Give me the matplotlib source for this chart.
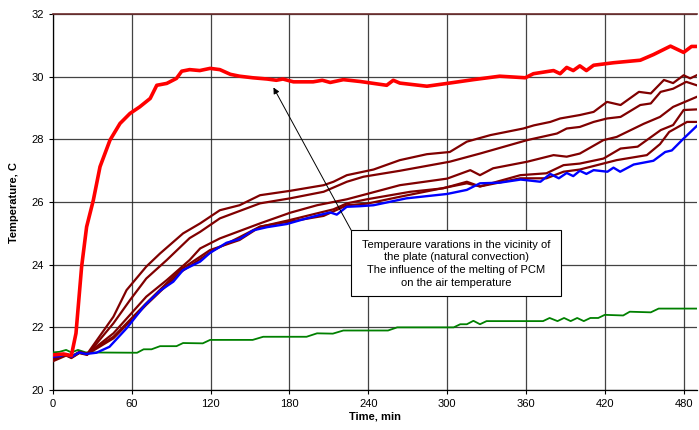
import numpy as np
import matplotlib
matplotlib.use('Agg')
import matplotlib.pyplot as plt
from matplotlib.patches import Rectangle

plt.rcParams['font.family'] = ['Liberation Sans', 'DejaVu Sans']

# air temperature next to the heated plate
red_t = [0, 8, 14, 17.5, 21.8, 25.6, 30.7, 35.8, 43.4, 51, 58.6, 66, 74, 79, 86.6, 94, 98, 104, 111.7,
         119.6, 127, 135, 142, 152, 163, 170, 175, 183, 198, 205, 211, 221, 234, 254, 259, 264, 284.6,
         300, 320, 340, 359.5, 365.7, 381, 386, 391, 396, 401, 406, 411.5, 426.7, 447, 457, 470, 480, 486, 492]
red_T = [21.12, 21.15, 21.1, 21.81, 23.94, 25.21, 26.06, 27.13, 27.98, 28.51, 28.83, 29.04, 29.31, 29.73,
         29.79, 29.95, 30.18, 30.23, 30.2, 30.27, 30.23, 30.08, 30.02, 29.97, 29.93, 29.89, 29.93, 29.84,
         29.84, 29.89, 29.82, 29.91, 29.85, 29.73, 29.89, 29.8, 29.7, 29.79, 29.91, 30.02, 29.97, 30.1,
         30.2, 30.1, 30.3, 30.2, 30.35, 30.2, 30.37, 30.45, 30.53, 30.71, 30.98, 30.78, 30.97, 30.97]

# ambient
green_t = [0, 5, 10, 14, 19, 25, 64, 69, 75, 81.5, 94, 99, 114, 119.6, 152, 160, 193, 201, 213, 221, 255,
           262, 305, 310, 315, 320, 325, 330, 373, 378, 384, 389, 394, 399, 404, 409, 415, 420, 434, 439,
           455, 461, 491]
green_T = [21.2, 21.22, 21.28, 21.2, 21.28, 21.2, 21.19, 21.3, 21.3, 21.4, 21.4, 21.5, 21.49, 21.6, 21.6,
           21.7, 21.7, 21.81, 21.8, 21.9, 21.9, 22.0, 22.0, 22.1, 22.1, 22.21, 22.1, 22.2, 22.2, 22.3, 22.2,
           22.3, 22.2, 22.3, 22.2, 22.3, 22.3, 22.4, 22.38, 22.5, 22.48, 22.6, 22.6]

blue_t = [0, 5, 10, 14, 20, 25, 33, 43, 56, 70, 81.5, 91.6, 99, 112, 119.6, 132, 142, 152.6, 163, 178, 193,
          203, 211, 216, 223.6, 234, 244, 269, 300, 315, 325, 340, 356, 371, 378.5, 385, 391, 396, 401,
          406, 411.5, 422, 426.6, 431.7, 442, 457, 466, 471, 480, 491.5]
blue_T = [21.06, 21.08, 21.15, 21.06, 21.2, 21.15, 21.19, 21.38, 21.97, 22.71, 23.17, 23.46, 23.83, 24.1,
          24.38, 24.7, 24.82, 25.1, 25.2, 25.3, 25.48, 25.59, 25.67, 25.6, 25.85, 25.87, 25.9, 26.12, 26.26,
          26.39, 26.6, 26.62, 26.72, 26.65, 26.9, 26.76, 26.93, 26.83, 27.0, 26.9, 27.02, 26.97, 27.1,
          26.97, 27.2, 27.32, 27.6, 27.65, 28.03, 28.49]

# other sensors in the plate vicinity
a_t = [0, 10, 14, 20, 26, 46, 56, 71, 81.5, 99, 112, 127, 142, 157.6, 180.5, 206, 213.5, 223.7, 244, 264,
       284.6, 302, 315, 333, 358, 366, 378.5, 386, 401, 411.5, 421.7, 432, 446, 455, 465, 472, 480, 485, 490]
a_T = [20.98, 21.12, 21.05, 21.2, 21.15, 22.34, 23.19, 23.94, 24.36, 25.0, 25.32, 25.74, 25.9, 26.22, 26.36,
       26.54, 26.65, 26.86, 27.04, 27.34, 27.53, 27.6, 27.93, 28.14, 28.35, 28.45, 28.56, 28.67, 28.78, 28.88,
       29.2, 29.1, 29.52, 29.47, 29.9, 29.8, 30.05, 29.95, 30.05]

b_t = [0, 10, 14, 20, 26, 46, 58.6, 71, 86.6, 104, 112, 127, 157.6, 180.5, 206, 223.7, 236.3, 264, 302, 325,
       361, 383.6, 391, 401, 411.5, 421.7, 432, 447, 455, 462.5, 472, 482, 490]
b_T = [20.92, 21.1, 21.02, 21.18, 21.12, 22.13, 22.87, 23.56, 24.15, 24.85, 25.05, 25.48, 25.96, 26.12, 26.33,
       26.65, 26.81, 27.0, 27.29, 27.55, 27.98, 28.19, 28.35, 28.4, 28.56, 28.67, 28.72, 29.1, 29.15, 29.52,
       29.62, 29.84, 29.73]

c_t = [0, 10, 14, 20, 26, 46, 71, 86.6, 104, 112, 127, 157.6, 180.5, 201, 223.7, 239, 264, 300, 317.6, 325,
       335, 361, 381, 391, 401, 419, 429, 449.6, 462, 472, 490]
c_T = [21.0, 21.14, 21.05, 21.2, 21.15, 21.81, 22.98, 23.51, 24.15, 24.52, 24.84, 25.32, 25.66, 25.9, 26.09,
       26.26, 26.54, 26.75, 27.02, 26.86, 27.08, 27.29, 27.5, 27.45, 27.55, 27.98, 28.08, 28.5, 28.72, 29.04,
       29.36]

d_t = [0, 10, 14, 20, 26, 46, 71, 96.7, 119.6, 142, 157.6, 180.5, 213.5, 223.7, 239, 272, 297, 315, 325,
       355.7, 375.6, 388.6, 401, 419, 432, 445, 462.6, 472, 480, 490]
d_T = [21.02, 21.15, 21.07, 21.22, 21.16, 21.7, 22.77, 23.83, 24.47, 24.79, 25.21, 25.43, 25.77, 25.96, 26.09,
       26.33, 26.44, 26.65, 26.5, 26.86, 26.92, 27.18, 27.23, 27.39, 27.71, 27.77, 28.3, 28.46, 28.94, 28.96]

e_t = [0, 10, 14, 20, 26, 46, 71, 96.7, 122, 142, 157.6, 180.5, 206, 223.7, 239, 264, 315, 325, 355.7,
       375.6, 388.6, 401, 429, 452, 462, 469, 482.6, 490]
e_T = [21.0, 21.13, 21.04, 21.19, 21.14, 21.65, 22.72, 23.75, 24.46, 24.88, 25.22, 25.38, 25.56, 25.9, 25.95,
       26.17, 26.6, 26.5, 26.76, 26.76, 26.97, 27.04, 27.34, 27.5, 27.85, 28.24, 28.56, 28.56]

note = ('Temperaure varations in the vicinity of\nthe plate (natural convection)\n'
        'The influence of the melting of PCM\non the air temperature')

fig = plt.figure(figsize=(6.99, 4.30), dpi=100)
ax = fig.add_axes([0.0758, 0.093, 0.921, 0.874])

ax.plot(green_t, green_T, color='#008000', lw=1.3, zorder=3)
for tt, TT in [(a_t, a_T), (b_t, b_T), (c_t, c_T), (d_t, d_T), (e_t, e_T)]:
    ax.plot(tt, TT, color='#800000', lw=1.6, zorder=3)
ax.plot(blue_t, blue_T, color='#0000ff', lw=1.7, zorder=4)
ax.plot(red_t, red_T, color='#ff0000', lw=2.6, zorder=5)

ax.set_xlim(0, 490)
ax.set_ylim(20, 32)
ax.set_xticks(np.arange(0, 481, 60))
ax.set_yticks(np.arange(20, 33, 2))
ax.grid(True, color='#222222', lw=0.9, alpha=0.85)
ax.set_axisbelow(True)
ax.tick_params(labelsize=8, length=3, width=0.8, colors='black')
for s in ['left', 'bottom']:
    ax.spines[s].set_linewidth(0.9)
ax.spines['top'].set_color('#6b2b2b')
ax.spines['top'].set_linewidth(1.2)
ax.spines['right'].set_visible(False)

ax.set_xlabel('Time, min', fontsize=8, fontweight='bold', labelpad=2)
ax.set_ylabel('Temperature, C', fontsize=8, fontweight='bold', labelpad=9)

# callout box with arrow
ax.add_patch(Rectangle((227, 23.0), 160, 2.1, facecolor='white', edgecolor='black', lw=0.8, zorder=6))
ax.text(307, 24.03, note, ha='center', va='center', fontsize=8, linespacing=1.35, zorder=7)
ax.annotate('', xy=(167.8, 29.66), xytext=(227, 25.1),
            arrowprops=dict(arrowstyle='-|>', color='black', lw=0.7, mutation_scale=9, shrinkA=0, shrinkB=0),
            zorder=6)

fig.savefig('out.png', dpi=100)
